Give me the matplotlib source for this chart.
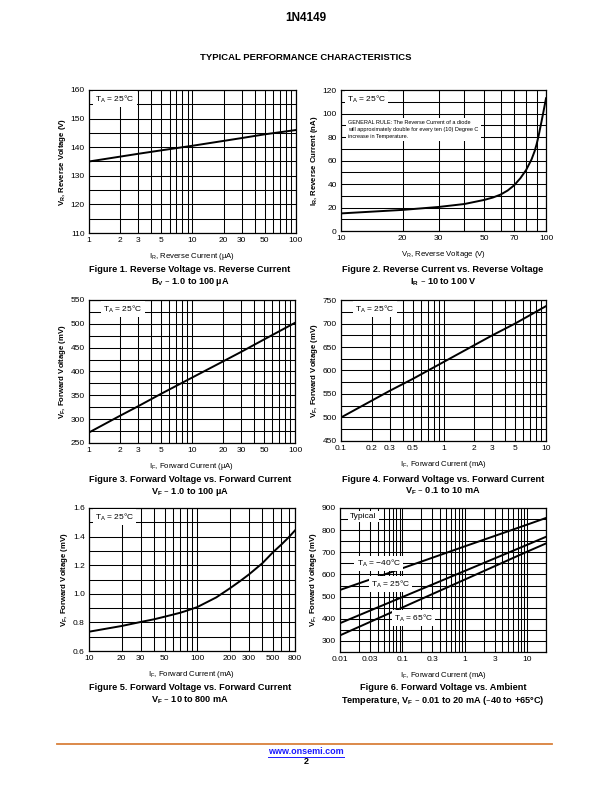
import numpy as np
import matplotlib
matplotlib.use('Agg')
from matplotlib import pyplot as plt
from matplotlib.lines import Line2D
from matplotlib.ticker import FixedLocator, NullFormatter

plt.rcParams['font.family'] = ['Liberation Sans', 'DejaVu Sans']

# Figure 1: reverse voltage vs reverse current
ir1 = [1, 2, 3, 5, 10, 20, 30, 50, 100]
vr1 = [135.0, 136.7, 137.7, 138.9, 140.5, 142.2, 143.2, 144.5, 146.0]

# Figure 2: reverse current vs reverse voltage
vr2 = [10, 20, 30, 40, 50, 55, 60, 65, 70, 75, 80, 85, 88, 90, 92, 95, 97, 100]
ir2 = [15.0, 18.0, 20.5, 23.0, 26.5, 28.5, 31.0, 34.5, 39.0, 45.0, 52.0, 61.0, 68.0,
       74.0, 81.0, 93.0, 101.0, 113.0]

# Figure 3: forward voltage vs forward current (uA)
if3 = [1, 2, 3, 5, 10, 20, 30, 50, 100]
vf3 = [272, 307, 327, 353, 387, 421, 441, 467, 502]

# Figure 4: forward voltage vs forward current (mA)
if4 = [0.1, 0.2, 0.3, 0.5, 1, 2, 3, 5, 10]
vf4 = [500, 536, 557, 582, 618, 654, 675, 700, 737]

# Figure 5: forward voltage vs forward current, 10 to 800 mA
if5 = [10, 20, 30, 40, 50, 60, 70, 80, 100, 150, 200, 250, 300, 400, 500, 600, 700, 800]
vf5 = [0.735, 0.775, 0.803, 0.822, 0.84, 0.855, 0.868, 0.882, 0.907, 0.975, 1.038,
       1.09, 1.135, 1.214, 1.29, 1.345, 1.395, 1.443]

# Figure 6: forward voltage vs ambient temperature
if6 = [0.01, 0.1, 1, 10, 20]
vf6_m40 = [530, 628, 727, 825, 855]
vf6_25 = [380, 498, 616, 734, 770]
vf6_65 = [325, 451, 577, 703, 740]

fig = plt.figure(figsize=(6.12, 7.92), dpi=100)

TICK = 6
LAB = 5.6
CAP = 6.6


def setup(ax, xlim, ylim, xmaj, xlabels, xminor, ymaj, yminor):
    ax.set_xscale('log')
    ax.set_xlim(*xlim)
    ax.set_ylim(*ylim)
    ax.xaxis.set_major_locator(FixedLocator(xmaj))
    ax.set_xticklabels(xlabels)
    ax.xaxis.set_minor_locator(FixedLocator(xminor))
    ax.xaxis.set_minor_formatter(NullFormatter())
    ax.yaxis.set_major_locator(FixedLocator(ymaj))
    ax.yaxis.set_minor_locator(FixedLocator(yminor))
    ax.yaxis.set_minor_formatter(NullFormatter())
    ax.grid(True, which='both', color='black', linewidth=0.75)
    ax.tick_params(which='both', length=0, labelsize=TICK, pad=3)
    for s in ax.spines.values():
        s.set_linewidth(0.9)
    ax.set_axisbelow(True)


def decades(lo, hi):
    vals = []
    d = lo
    while d < hi:
        vals += [d * k for k in range(1, 10)]
        d *= 10
    vals.append(hi)
    return [v for v in vals if lo <= v <= hi]


def tbox(ax, x, y, s, size=6):
    ax.text(x, y, s, transform=ax.transAxes, fontsize=size, va='center', ha='left',
            bbox=dict(facecolor='white', edgecolor='none', pad=1.5))


# ---- Figure 1
ax1 = fig.add_axes([0.1454, 0.7058, 0.3382, 0.1806])
setup(ax1, (1, 100), (110, 160), [1, 2, 3, 5, 10, 20, 30, 50, 100],
      ['1', '2', '3', '5', '10', '20', '30', '50', '100'], decades(1, 100),
      [110, 120, 130, 140, 150, 160], list(range(110, 161, 5)))
ax1.plot(ir1, vr1, color='black', lw=1.4)
ax1.set_xlabel(r'I$_\mathregular{R}$, Reverse Current (µA)', fontsize=LAB, labelpad=5)
ax1.set_ylabel(r'V$_\mathregular{R}$, Reverse Voltage (V)', fontsize=LAB, fontweight='bold', labelpad=2)
tbox(ax1, 0.03, 0.935, r'T$_\mathregular{A}$ = 25°C')

# ---- Figure 2
ax2 = fig.add_axes([0.5572, 0.7083, 0.335, 0.178])
setup(ax2, (10, 100), (0, 120), [10, 20, 30, 50, 70, 100],
      ['10', '20', '30', '50', '70', '100'], list(range(10, 101, 10)),
      list(range(0, 121, 20)), list(range(0, 121, 10)))
ax2.plot(vr2, ir2, color='black', lw=1.4)
ax2.set_xlabel(r'V$_\mathregular{R}$, Reverse Voltage (V)', fontsize=LAB, labelpad=5)
ax2.set_ylabel(r'I$_\mathregular{R}$, Reverse Current (nA)', fontsize=LAB, fontweight='bold', labelpad=2)
tbox(ax2, 0.03, 0.935, r'T$_\mathregular{A}$ = 25°C')
ax2.text(0.035, 0.72, 'GENERAL RULE: The Reverse Current of a diode\n'
         'will approximately double for every ten (10) Degree C\n'
         'increase in Temperature.', transform=ax2.transAxes, fontsize=4.0,
         va='center', ha='left', linespacing=1.5,
         bbox=dict(facecolor='white', edgecolor='none', pad=1.5))

# ---- Figure 3
ax3 = fig.add_axes([0.1454, 0.4407, 0.3366, 0.1806])
setup(ax3, (1, 100), (250, 550), [1, 2, 3, 5, 10, 20, 30, 50, 100],
      ['1', '2', '3', '5', '10', '20', '30', '50', '100'], decades(1, 100),
      list(range(250, 551, 50)), list(range(250, 551, 25)))
ax3.plot(if3, vf3, color='black', lw=1.4)
ax3.set_xlabel(r'I$_\mathregular{F}$, Forward Current (µA)', fontsize=LAB, labelpad=5)
ax3.set_ylabel(r'V$_\mathregular{F}$, Forward Voltage (mV)', fontsize=LAB, fontweight='bold', labelpad=2)
tbox(ax3, 0.07, 0.935, r'T$_\mathregular{A}$ = 25°C')

# ---- Figure 4
ax4 = fig.add_axes([0.5572, 0.4432, 0.335, 0.178])
setup(ax4, (0.1, 10), (450, 750), [0.1, 0.2, 0.3, 0.5, 1, 2, 3, 5, 10],
      ['0.1', '0.2', '0.3', '0.5', '1', '2', '3', '5', '10'], decades(0.1, 10),
      list(range(450, 751, 50)), list(range(450, 751, 25)))
ax4.plot(if4, vf4, color='black', lw=1.4)
ax4.set_xlabel(r'I$_\mathregular{F}$, Forward Current (mA)', fontsize=LAB, labelpad=5)
ax4.set_ylabel(r'V$_\mathregular{F}$, Forward Voltage (mV)', fontsize=LAB, fontweight='bold', labelpad=2)
tbox(ax4, 0.07, 0.935, r'T$_\mathregular{A}$ = 25°C')

# ---- Figure 5
ax5 = fig.add_axes([0.1454, 0.178, 0.3366, 0.1806])
setup(ax5, (10, 800), (0.6, 1.6), [10, 20, 30, 50, 100, 200, 300, 500, 800],
      ['10', '20', '30', '50', '100', '200', '300', '500', '800'], decades(10, 800),
      [0.6, 0.8, 1.0, 1.2, 1.4, 1.6], list(np.arange(6, 17) / 10))
ax5.set_yticklabels(['0.6', '0.8', '1.0', '1.2', '1.4', '1.6'])
ax5.plot(if5, vf5, color='black', lw=1.4)
ax5.set_xlabel(r'I$_\mathregular{F}$, Forward Current (mA)', fontsize=LAB, labelpad=5)
ax5.set_ylabel(r'V$_\mathregular{F}$, Forward Voltage (mV)', fontsize=LAB, fontweight='bold', labelpad=2)
tbox(ax5, 0.03, 0.935, r'T$_\mathregular{A}$ = 25°C')

# ---- Figure 6
ax6 = fig.add_axes([0.5556, 0.1768, 0.3366, 0.1818])
setup(ax6, (0.01, 20), (250, 900), [0.01, 0.03, 0.1, 0.3, 1, 3, 10],
      ['0.01', '0.03', '0.1', '0.3', '1', '3', '10'], decades(0.01, 20),
      list(range(300, 901, 100)), list(range(250, 901, 50)))
for v in (vf6_m40, vf6_25, vf6_65):
    ax6.plot(if6, v, color='black', lw=1.4)
ax6.set_xlabel(r'I$_\mathregular{F}$, Forward Current (mA)', fontsize=LAB, labelpad=5)
ax6.set_ylabel(r'V$_\mathregular{F}$, Forward Voltage (mV)', fontsize=LAB, fontweight='bold', labelpad=2)
tbox(ax6, 0.05, 0.94, 'Typical')
tbox(ax6, 0.08, 0.615, r'T$_\mathregular{A}$ = −40°C')
tbox(ax6, 0.15, 0.47, r'T$_\mathregular{A}$ = 25°C')
tbox(ax6, 0.26, 0.235, r'T$_\mathregular{A}$ = 65°C')

# ---- page text
fig.text(0.5, 1 - 18 / 792, '1N4149', ha='center', va='center', fontsize=8.5, fontweight='bold')
fig.text(0.5, 1 - 57 / 792, 'TYPICAL PERFORMANCE CHARACTERISTICS', ha='center', va='center',
         fontsize=6.8, fontweight='bold')

captions = [
    (190, 270, 'Figure 1. Reverse Voltage vs. Reverse Current', r'B$_\mathregular{V}$ – 1.0 to 100 µA'),
    (443, 270, 'Figure 2. Reverse Current vs. Reverse Voltage', r'I$_\mathregular{R}$ – 10 to 100 V'),
    (190, 479, 'Figure 3. Forward Voltage vs. Forward Current', r'V$_\mathregular{F}$ – 1.0 to 100 µA'),
    (443, 479, 'Figure 4. Forward Voltage vs. Forward Current', r'V$_\mathregular{F}$ – 0.1 to 10 mA'),
    (190, 688, 'Figure 5. Forward Voltage vs. Forward Current', r'V$_\mathregular{F}$ – 10 to 800 mA'),
    (443, 688, 'Figure 6. Forward Voltage vs. Ambient',
     r'Temperature, V$_\mathregular{F}$ – 0.01 to 20 mA (–40 to +65°C)'),
]
for cx, cy, l1, l2 in captions:
    fig.text(cx / 612, 1 - cy / 792, l1, ha='center', va='center', fontsize=CAP, fontweight='bold')
    fig.text(cx / 612, 1 - (cy + 12.5) / 792, l2, ha='center', va='center', fontsize=CAP, fontweight='bold')

fig.add_artist(Line2D([57 / 612, 552 / 612], [1 - 744 / 792, 1 - 744 / 792],
                      color='#d9803a', lw=1.3, transform=fig.transFigure))
fig.text(0.5, 1 - 752 / 792, 'www.onsemi.com', ha='center', va='center', fontsize=6.5,
         fontweight='bold', color='#1a1aff')
fig.add_artist(Line2D([268 / 612, 344 / 612], [1 - 756.5 / 792, 1 - 756.5 / 792],
                      color='#1a1aff', lw=0.7, transform=fig.transFigure))
fig.text(0.5, 1 - 762 / 792, '2', ha='center', va='center', fontsize=6.5, fontweight='bold')

fig.savefig('out.png', dpi=100)
